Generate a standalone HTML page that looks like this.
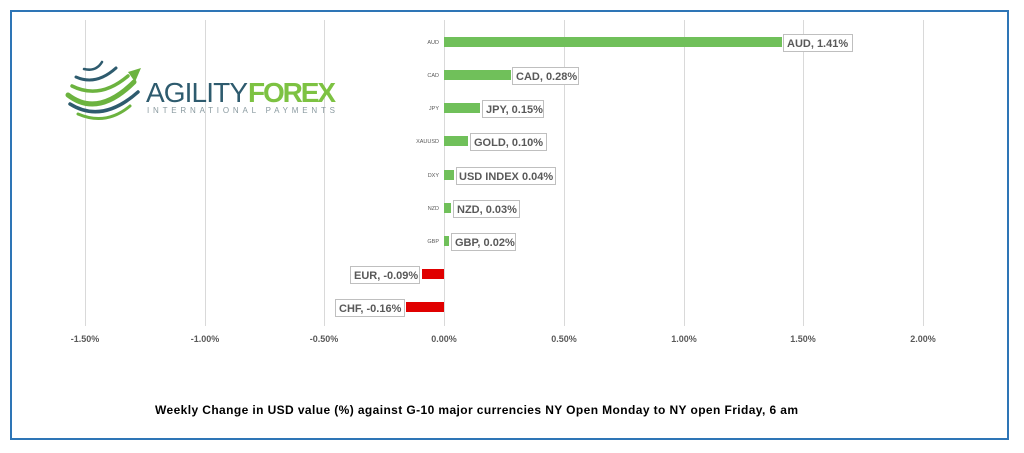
<!DOCTYPE html>
<html><head><style>
html,body{margin:0;padding:0;background:#fff;}
svg{display:block;font-family:"Liberation Sans",sans-serif;}
.t{font-size:9px;fill:#595959;font-weight:bold;}
.c{font-size:5.5px;fill:#595959;text-anchor:end;}
.l{font-size:11px;font-weight:bold;fill:#595959;}
</style></head><body>
<svg width="1024" height="453" viewBox="0 0 1024 453">
<rect x="0" y="0" width="1024" height="453" fill="#fff"/>
<rect x="11" y="11" width="997" height="428" fill="none" stroke="#2e75b6" stroke-width="2"/>
<g stroke="#d9d9d9" stroke-width="1">
<line x1="85.5" y1="20" x2="85.5" y2="326"/>
<line x1="205.5" y1="20" x2="205.5" y2="326"/>
<line x1="324.5" y1="20" x2="324.5" y2="326"/>
<line x1="444.5" y1="20" x2="444.5" y2="326"/>
<line x1="564.5" y1="20" x2="564.5" y2="326"/>
<line x1="684.5" y1="20" x2="684.5" y2="326"/>
<line x1="803.5" y1="20" x2="803.5" y2="326"/>
<line x1="923.5" y1="20" x2="923.5" y2="326"/>
</g>
<g class="t" text-anchor="middle">
<text x="85" y="342">-1.50%</text><text x="205" y="342">-1.00%</text><text x="324" y="342">-0.50%</text>
<text x="444" y="342">0.00%</text><text x="564" y="342">0.50%</text><text x="684" y="342">1.00%</text>
<text x="803" y="342">1.50%</text><text x="923" y="342">2.00%</text>
</g>
<g fill="#70c05a">
<rect x="444" y="37" width="338" height="10"/>
<rect x="444" y="70" width="67" height="10"/>
<rect x="444" y="103" width="36" height="10"/>
<rect x="444" y="136" width="24" height="10"/>
<rect x="444" y="170" width="10" height="10"/>
<rect x="444" y="203" width="7" height="10"/>
<rect x="444" y="236" width="5" height="10"/>
</g>
<g fill="#e00000">
<rect x="422" y="269" width="22" height="10"/>
<rect x="406" y="302" width="38" height="10"/>
</g>
<g class="c">
<text x="439" y="44">AUD</text><text x="439" y="77">CAD</text><text x="439" y="110">JPY</text>
<text x="439" y="143">XAUUSD</text><text x="439" y="177">DXY</text><text x="439" y="210">NZD</text>
<text x="439" y="243">GBP</text>
</g>
<g fill="#fff" stroke="#bfbfbf" stroke-width="1">
<rect x="783.5" y="34.5" width="69" height="17"/>
<rect x="512.5" y="67.5" width="66" height="17"/>
<rect x="482.5" y="100.5" width="61" height="17"/>
<rect x="470.5" y="133.5" width="76" height="17"/>
<rect x="456.5" y="167.5" width="99" height="17"/>
<rect x="453.5" y="200.5" width="66" height="17"/>
<rect x="451.5" y="233.5" width="64" height="17"/>
<rect x="350.5" y="266.5" width="69" height="17"/>
<rect x="335.5" y="299.5" width="69" height="17"/>
</g>
<g class="l">
<text x="787" y="47">AUD, 1.41%</text>
<text x="516" y="80">CAD, 0.28%</text>
<text x="486" y="113">JPY, 0.15%</text>
<text x="474" y="146">GOLD, 0.10%</text>
<text x="459" y="180">USD INDEX 0.04%</text>
<text x="457" y="213">NZD, 0.03%</text>
<text x="455" y="246">GBP, 0.02%</text>
<text x="354" y="279">EUR, -0.09%</text>
<text x="339" y="312">CHF, -0.16%</text>
</g>
<g fill="none" stroke-linecap="round">
<path d="M68 95 Q98 118 134 82" stroke="#6cb33f" stroke-width="5"/>
<path d="M70 104 Q102 124 138 92" stroke="#2e5b6e" stroke-width="3.5"/>
<path d="M72 86 Q100 100 128 76" stroke="#6cb33f" stroke-width="3.5"/>
<path d="M76 77 Q96 86 116 68" stroke="#2e5b6e" stroke-width="3"/>
<path d="M84 69 Q96 72 102 62" stroke="#2e5b6e" stroke-width="2.5"/>
<path d="M78 114 Q106 126 130 106" stroke="#6cb33f" stroke-width="3"/>
</g>
<polygon points="128,72 141,68 135,82" fill="#6cb33f"/>
<text x="146" y="102" textLength="102" style="font-size:28px;fill:#2e5b6e;">AGILITY</text>
<text x="248" y="102" textLength="88" style="font-size:28px;font-weight:bold;fill:#7dc242">FOREX</text>
<text x="147" y="113" textLength="188" style="font-size:8px;fill:#8a9aa0;">INTERNATIONAL PAYMENTS</text>
<text x="155" y="414" textLength="643" style="font-size:12px;font-weight:bold;fill:#000">Weekly Change in  USD value (%)  against  G-10 major currencies NY Open Monday  to NY open Friday, 6 am</text>
</svg>
</body></html>
